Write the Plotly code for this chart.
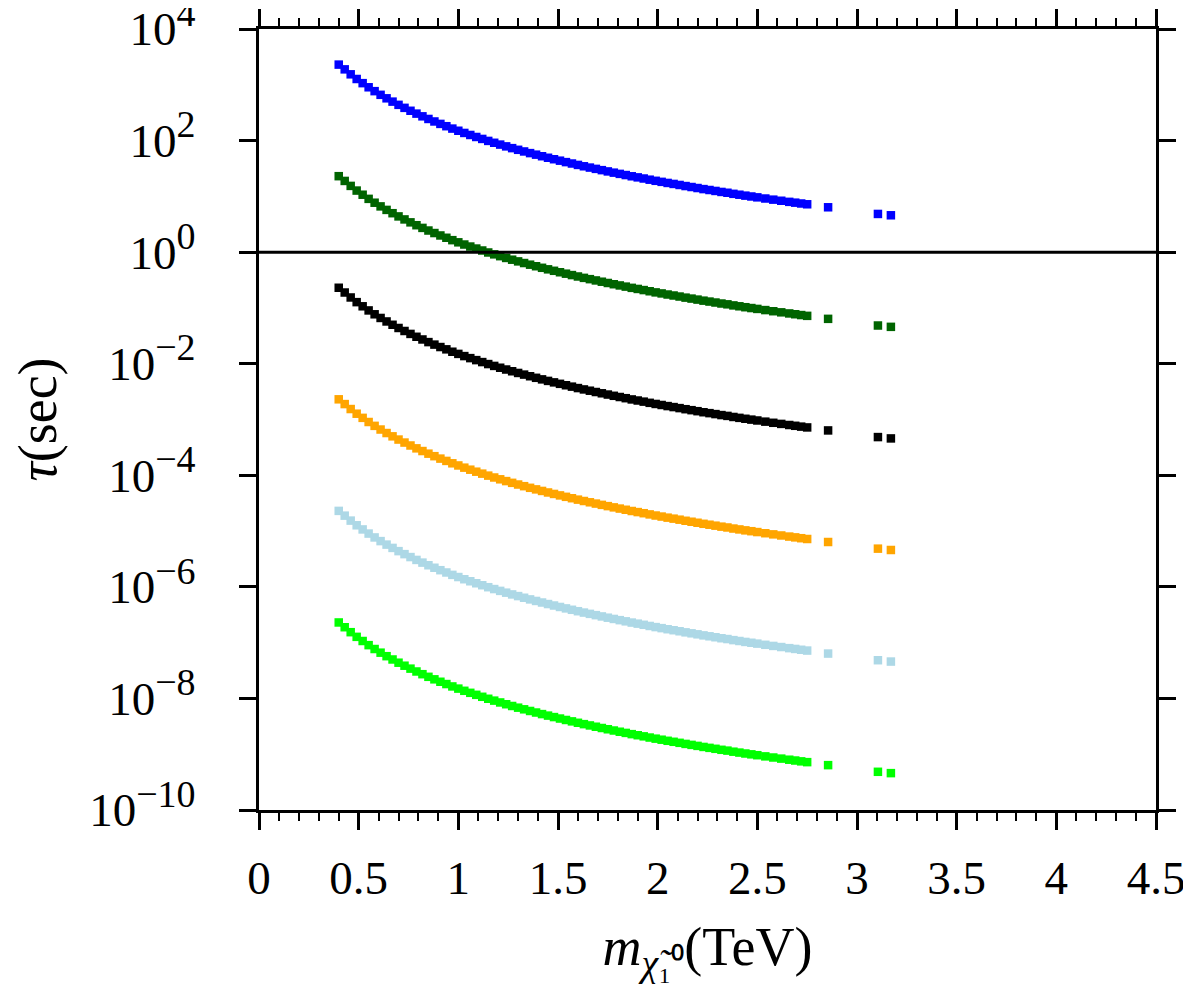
import plotly.graph_objects as go

# neutralino mass (TeV), shared by all curves
mass = [0.40, 0.43, 0.46, 0.49, 0.52, 0.55, 0.58, 0.61, 0.64, 0.67,
        0.70, 0.73, 0.76, 0.79, 0.82, 0.85, 0.88, 0.91, 0.94, 0.97,
        1.00, 1.03, 1.06, 1.09, 1.12, 1.15, 1.18, 1.21, 1.24, 1.27,
        1.30, 1.33, 1.36, 1.39, 1.42, 1.45, 1.48, 1.51, 1.54, 1.57,
        1.60, 1.63, 1.66, 1.69, 1.72, 1.75, 1.78, 1.81, 1.84, 1.87,
        1.90, 1.93, 1.96, 1.99, 2.02, 2.05, 2.08, 2.11, 2.14, 2.17,
        2.20, 2.23, 2.26, 2.29, 2.32, 2.35, 2.38, 2.41, 2.44, 2.47,
        2.50, 2.54, 2.58, 2.62, 2.66, 2.69, 2.72, 2.75, 2.855, 3.105, 3.17]

# lifetimes (sec)
tau_blue = [2.30e3, 1.89e3, 1.54e3, 1.27e3, 1.07e3,
            9.02e2, 7.69e2, 6.61e2, 5.72e2, 4.99e2, 4.37e2, 3.86e2, 3.42e2, 3.04e2, 2.72e2,
            2.44e2, 2.20e2, 1.99e2, 1.81e2, 1.64e2, 1.50e2, 1.37e2, 1.26e2, 1.16e2, 1.07e2,
            9.86e1, 9.13e1, 8.47e1, 7.87e1, 7.32e1, 6.83e1, 6.38e1, 5.96e1, 5.59e1, 5.24e1,
            4.92e1, 4.63e1, 4.36e1, 4.11e1, 3.88e1, 3.66e1, 3.46e1, 3.28e1, 3.11e1, 2.95e1,
            2.80e1, 2.66e1, 2.53e1, 2.41e1, 2.29e1, 2.19e1, 2.09e1, 1.99e1, 1.90e1, 1.82e1,
            1.74e1, 1.67e1, 1.60e1, 1.53e1, 1.47e1, 1.41e1, 1.35e1, 1.30e1, 1.25e1, 1.20e1,
            1.16e1, 1.11e1, 1.07e1, 1.03e1,
            9.95e0, 9.60e0, 9.15e0, 8.73e0, 8.34e0, 7.97e0, 7.71e0, 7.45e0, 7.21e0,
            6.37e0, 4.84e0, 4.58e0]

tau_darkgreen = [2.30e1, 1.89e1, 1.54e1, 1.27e1, 1.07e1,
                 9.02e0, 7.69e0, 6.61e0, 5.72e0, 4.99e0, 4.37e0, 3.86e0, 3.42e0, 3.04e0, 2.72e0,
                 2.44e0, 2.20e0, 1.99e0, 1.81e0, 1.64e0, 1.50e0, 1.37e0, 1.26e0, 1.16e0, 1.07e0,
                 9.86e-1, 9.13e-1, 8.47e-1, 7.87e-1, 7.32e-1, 6.83e-1, 6.38e-1, 5.96e-1, 5.59e-1, 5.24e-1,
                 4.92e-1, 4.63e-1, 4.36e-1, 4.11e-1, 3.88e-1, 3.66e-1, 3.46e-1, 3.28e-1, 3.11e-1, 2.95e-1,
                 2.80e-1, 2.66e-1, 2.53e-1, 2.41e-1, 2.29e-1, 2.19e-1, 2.09e-1, 1.99e-1, 1.90e-1, 1.82e-1,
                 1.74e-1, 1.67e-1, 1.60e-1, 1.53e-1, 1.47e-1, 1.41e-1, 1.35e-1, 1.30e-1, 1.25e-1, 1.20e-1,
                 1.16e-1, 1.11e-1, 1.07e-1, 1.03e-1,
                 9.95e-2, 9.60e-2, 9.15e-2, 8.73e-2, 8.34e-2, 7.97e-2, 7.71e-2, 7.45e-2, 7.21e-2,
                 6.37e-2, 4.84e-2, 4.58e-2]

tau_black = [2.30e-1, 1.89e-1, 1.54e-1, 1.27e-1, 1.07e-1,
             9.02e-2, 7.69e-2, 6.61e-2, 5.72e-2, 4.99e-2, 4.37e-2, 3.86e-2, 3.42e-2, 3.04e-2, 2.72e-2,
             2.44e-2, 2.20e-2, 1.99e-2, 1.81e-2, 1.64e-2, 1.50e-2, 1.37e-2, 1.26e-2, 1.16e-2, 1.07e-2,
             9.86e-3, 9.13e-3, 8.47e-3, 7.87e-3, 7.32e-3, 6.83e-3, 6.38e-3, 5.96e-3, 5.59e-3, 5.24e-3,
             4.92e-3, 4.63e-3, 4.36e-3, 4.11e-3, 3.88e-3, 3.66e-3, 3.46e-3, 3.28e-3, 3.11e-3, 2.95e-3,
             2.80e-3, 2.66e-3, 2.53e-3, 2.41e-3, 2.29e-3, 2.19e-3, 2.09e-3, 1.99e-3, 1.90e-3, 1.82e-3,
             1.74e-3, 1.67e-3, 1.60e-3, 1.53e-3, 1.47e-3, 1.41e-3, 1.35e-3, 1.30e-3, 1.25e-3, 1.20e-3,
             1.16e-3, 1.11e-3, 1.07e-3, 1.03e-3,
             9.95e-4, 9.60e-4, 9.15e-4, 8.73e-4, 8.34e-4, 7.97e-4, 7.71e-4, 7.45e-4, 7.21e-4,
             6.37e-4, 4.84e-4, 4.58e-4]

tau_orange = [2.30e-3, 1.89e-3, 1.54e-3, 1.27e-3, 1.07e-3,
              9.02e-4, 7.69e-4, 6.61e-4, 5.72e-4, 4.99e-4, 4.37e-4, 3.86e-4, 3.42e-4, 3.04e-4, 2.72e-4,
              2.44e-4, 2.20e-4, 1.99e-4, 1.81e-4, 1.64e-4, 1.50e-4, 1.37e-4, 1.26e-4, 1.16e-4, 1.07e-4,
              9.86e-5, 9.13e-5, 8.47e-5, 7.87e-5, 7.32e-5, 6.83e-5, 6.38e-5, 5.96e-5, 5.59e-5, 5.24e-5,
              4.92e-5, 4.63e-5, 4.36e-5, 4.11e-5, 3.88e-5, 3.66e-5, 3.46e-5, 3.28e-5, 3.11e-5, 2.95e-5,
              2.80e-5, 2.66e-5, 2.53e-5, 2.41e-5, 2.29e-5, 2.19e-5, 2.09e-5, 1.99e-5, 1.90e-5, 1.82e-5,
              1.74e-5, 1.67e-5, 1.60e-5, 1.53e-5, 1.47e-5, 1.41e-5, 1.35e-5, 1.30e-5, 1.25e-5, 1.20e-5,
              1.16e-5, 1.11e-5, 1.07e-5, 1.03e-5,
              9.95e-6, 9.60e-6, 9.15e-6, 8.73e-6, 8.34e-6, 7.97e-6, 7.71e-6, 7.45e-6, 7.21e-6,
              6.37e-6, 4.84e-6, 4.58e-6]

tau_lightblue = [2.30e-5, 1.89e-5, 1.54e-5, 1.27e-5, 1.07e-5,
                 9.02e-6, 7.69e-6, 6.61e-6, 5.72e-6, 4.99e-6, 4.37e-6, 3.86e-6, 3.42e-6, 3.04e-6, 2.72e-6,
                 2.44e-6, 2.20e-6, 1.99e-6, 1.81e-6, 1.64e-6, 1.50e-6, 1.37e-6, 1.26e-6, 1.16e-6, 1.07e-6,
                 9.86e-7, 9.13e-7, 8.47e-7, 7.87e-7, 7.32e-7, 6.83e-7, 6.38e-7, 5.96e-7, 5.59e-7, 5.24e-7,
                 4.92e-7, 4.63e-7, 4.36e-7, 4.11e-7, 3.88e-7, 3.66e-7, 3.46e-7, 3.28e-7, 3.11e-7, 2.95e-7,
                 2.80e-7, 2.66e-7, 2.53e-7, 2.41e-7, 2.29e-7, 2.19e-7, 2.09e-7, 1.99e-7, 1.90e-7, 1.82e-7,
                 1.74e-7, 1.67e-7, 1.60e-7, 1.53e-7, 1.47e-7, 1.41e-7, 1.35e-7, 1.30e-7, 1.25e-7, 1.20e-7,
                 1.16e-7, 1.11e-7, 1.07e-7, 1.03e-7,
                 9.95e-8, 9.60e-8, 9.15e-8, 8.73e-8, 8.34e-8, 7.97e-8, 7.71e-8, 7.45e-8, 7.21e-8,
                 6.37e-8, 4.84e-8, 4.58e-8]

tau_lime = [2.30e-7, 1.89e-7, 1.54e-7, 1.27e-7, 1.07e-7,
            9.02e-8, 7.69e-8, 6.61e-8, 5.72e-8, 4.99e-8, 4.37e-8, 3.86e-8, 3.42e-8, 3.04e-8, 2.72e-8,
            2.44e-8, 2.20e-8, 1.99e-8, 1.81e-8, 1.64e-8, 1.50e-8, 1.37e-8, 1.26e-8, 1.16e-8, 1.07e-8,
            9.86e-9, 9.13e-9, 8.47e-9, 7.87e-9, 7.32e-9, 6.83e-9, 6.38e-9, 5.96e-9, 5.59e-9, 5.24e-9,
            4.92e-9, 4.63e-9, 4.36e-9, 4.11e-9, 3.88e-9, 3.66e-9, 3.46e-9, 3.28e-9, 3.11e-9, 2.95e-9,
            2.80e-9, 2.66e-9, 2.53e-9, 2.41e-9, 2.29e-9, 2.19e-9, 2.09e-9, 1.99e-9, 1.90e-9, 1.82e-9,
            1.74e-9, 1.67e-9, 1.60e-9, 1.53e-9, 1.47e-9, 1.41e-9, 1.35e-9, 1.30e-9, 1.25e-9, 1.20e-9,
            1.16e-9, 1.11e-9, 1.07e-9, 1.03e-9,
            9.95e-10, 9.60e-10, 9.15e-10, 8.73e-10, 8.34e-10, 7.97e-10, 7.71e-10, 7.45e-10, 7.21e-10,
            6.37e-10, 4.84e-10, 4.58e-10]

series = [
    (tau_blue, '#0000ff'),
    (tau_darkgreen, '#006400'),
    (tau_black, '#000000'),
    (tau_orange, '#ffa500'),
    (tau_lightblue, '#add8e6'),
    (tau_lime, '#00ff00'),
]

y_tickvals = [1e4, 1e2, 1e0, 1e-2, 1e-4, 1e-6, 1e-8, 1e-10]
y_exponents = ['4', '2', '0', '\u22122', '\u22124', '\u22126', '\u22128', '\u221210']
y_ticktext = ['10<sup><span style="font-size:38px">%s</span></sup>' % e for e in y_exponents]

font = 'Liberation Serif'

fig = go.Figure()

for tau, color in series:
    fig.add_trace(go.Scatter(
        x=mass, y=tau, mode='markers',
        marker=dict(symbol='square', size=8.5, color=color, line=dict(width=0)),
        showlegend=False,
    ))

# tau = 1 sec reference line
fig.add_hline(y=1, line=dict(color='black', width=3))

axis_style = dict(
    showline=True, linecolor='black', linewidth=3, mirror='allticks',
    ticks='outside', tickcolor='black', tickwidth=3, ticklen=17,
    showgrid=False, zeroline=False, automargin=False, ticklabeloverflow='allow',
    tickfont=dict(family=font, size=47, color='black'),
)

# the page body adds an 8px offset, so the figure is 8px smaller here
fig.update_layout(
    width=1183, height=991,
    margin=dict(l=251, r=35, t=21, b=189),
    plot_bgcolor='white', paper_bgcolor='white',
    xaxis=dict(
        range=[0, 4.5], dtick=0.5, tick0=0,
        minor=dict(ticks='outside', ticklen=8, tickwidth=2, tickcolor='black', dtick=0.1),
        ticklabelstandoff=8,
        title=dict(text='<i>m</i><sub><i>\u03c7\u0303</i>\u2081\u2070</sub>(TeV)',
                   font=dict(family=font, size=54, color='black'), standoff=24),
        **axis_style,
    ),
    yaxis=dict(
        type='log', range=[-10, 4],
        tickmode='array', tickvals=y_tickvals, ticktext=y_ticktext,
        ticklabelstandoff=34,
        title=dict(text='<i>\u03c4</i>(sec)', font=dict(family=font, size=54, color='black'),
                   standoff=20),
        **axis_style,
    ),
)

fig.write_html('out.html')
